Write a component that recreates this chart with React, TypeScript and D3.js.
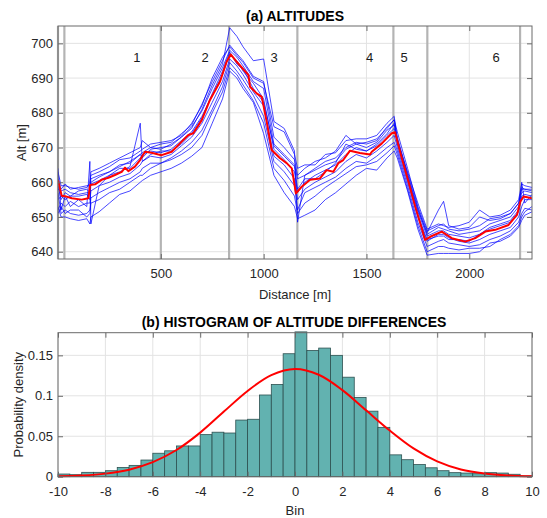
import React, { useEffect, useRef } from 'react';
import * as d3 from 'd3';

const FONT = '"Liberation Sans", Arial, Helvetica, sans-serif';

// ---------- (a) altitudes ----------
const altXTicks = [500, 1000, 1500, 2000];
const altYTicks = [640, 650, 660, 670, 680, 690, 700];
const segBounds = [0, 31, 500, 832, 1164, 1631, 1796, 2247];
const segNames = ['1', '2', '3', '4', '5', '6'];
const segLabelAt = [383, 715, 1051, 1515, 1683, 2131];

// distances (m) where the individual runs were read
const runDist = [0, 15, 35, 60, 100, 140, 155, 160, 200, 250, 300, 350, 400, 410, 450, 500, 550, 600, 650, 700,
  750, 800, 835, 870, 900, 950, 1000, 1050, 1100, 1150, 1165, 1200, 1250, 1300, 1350, 1400, 1450, 1500, 1550, 1600,
  1635, 1650, 1700, 1750, 1795, 1850, 1875, 1900, 1950, 2000, 2050, 2100, 2150, 2200, 2240, 2255, 2270, 2305];

const run1 = [663, 659, 659, 658.5, 658, 658.5, 660, 662, 663, 664.5, 666.5, 667, 669, 669.5, 671, 671.5, 672, 673.5, 677, 682,
  690, 696, 699, 696.5, 694.5, 690, 688.5, 676, 674.5, 668, 664, 665, 665, 668, 668.5, 672, 672.5, 672.5, 673.5, 677,
  679, 672, 663, 654, 646.5, 648, 647.5, 647, 647.5, 648.5, 652, 650, 650.5, 652, 655, 659.5, 659, 658.5];
const run2 = [658, 657.5, 658, 657, 656.5, 657, 657, 661, 662, 663, 665, 665.5, 668, 667, 669.5, 670, 670.5, 673, 676, 680.5,
  687, 693, 698, 696, 693.5, 689, 687, 671, 668, 665, 661, 662, 663.5, 665, 666, 669.5, 671, 670, 671.5, 675,
  676.5, 673, 662.5, 652.5, 645, 647, 646.5, 646, 645, 645.5, 646, 648, 649, 650, 653, 657, 657.5, 657];
const run3 = [655, 656, 655, 656, 656, 656.5, 655, 659.5, 660.5, 662, 664, 664, 667, 668, 669, 668.5, 669.5, 672, 674.5, 679,
  685, 691, 697, 695, 692, 688.5, 684, 669.5, 666.5, 663, 657, 660, 662, 663.5, 665, 668, 670, 669, 670.5, 673.5,
  675.5, 671.5, 661.5, 651.5, 644.5, 646, 646, 645, 644.5, 644, 645, 646.5, 647.5, 648.5, 651.5, 656, 656.5, 656];
const run4 = [652, 654, 653, 654.5, 653, 654, 654, 657.5, 659, 660, 661.5, 662.5, 665, 666, 667.5, 667, 668, 670.5, 673, 677,
  683, 689, 695.5, 693.5, 691, 686, 682, 667.5, 665, 661, 655, 658, 660, 661.5, 663, 666, 668, 667, 669, 671.5,
  673.5, 670, 660, 650, 643, 645, 645, 644, 643, 642.5, 643.5, 645, 646, 647, 650, 653, 655, 655];
const run5 = [657, 651, 652, 651, 650.5, 651, 652, 655.5, 657, 658.5, 660, 661, 663, 664, 665.5, 665.5, 667, 669, 671.5, 675,
  681, 687.5, 694.5, 692, 689.5, 685, 679, 666, 663, 659, 652, 657, 658.5, 660, 661.5, 664, 666, 665.5, 667.5, 670,
  671.5, 669, 659, 648.5, 641.5, 643, 643.5, 642.5, 642, 641.5, 642, 643.5, 644.5, 646, 648.5, 651, 652.5, 652];
const run6 = [653, 650, 650, 649.5, 649, 649.5, 648, 650, 651.5, 654, 656.5, 657.5, 660, 660.5, 662, 663, 664, 665.5, 667.5, 670,
  677, 684, 692, 690, 687, 683, 674, 662, 657, 653, 649.5, 650.5, 652, 655, 657, 659.5, 662, 664, 663.5, 667,
  669, 667, 657.5, 646.5, 639, 639.5, 639.5, 639.5, 639.5, 639.5, 640, 642.5, 643, 644.5, 647, 649, 650.5, 651.5];
const run7 = [659, 655, 657, 656, 657.5, 658, 657, 660, 661.5, 663, 664.5, 666, 668, 668.5, 670, 669.5, 671, 673, 675.5, 681,
  688, 694, 704.5, 702, 699, 695, 695.5, 677.5, 675.5, 669, 648.5, 662, 664, 666, 667, 670, 671.5, 671, 672, 676,
  678, 672.5, 662, 652, 645.5, 652, 654.5, 647.5, 646.5, 647, 650, 649, 649.5, 651, 654, 658, 658, 657.5];
const run8 = [664, 652, 656, 653, 655, 653, 666, 648, 659, 662, 663, 664.5, 677, 666, 668, 669, 669, 671, 674, 678.5,
  685.5, 692, 697.5, 694, 692.5, 687, 683, 670.5, 667.5, 664.5, 658, 661, 661, 663, 665.5, 671, 669.5, 669, 671, 674,
  677, 671, 661, 650.5, 643.5, 644.5, 644.5, 643.5, 643.5, 643, 645, 647, 648, 649, 652, 660, 654, 656.5];
const run9 = [651, 653, 651, 652, 652, 650, 651, 654, 655, 657, 658, 660, 662, 662, 664, 665.5, 666.5, 668, 670, 673.5,
  680, 686, 693, 691, 688, 683.5, 677, 664, 660.5, 656, 651, 654, 656, 658.5, 660.5, 662.5, 664.5, 665, 666, 668.5,
  670.5, 668, 658, 647.5, 640, 641.5, 641.5, 641, 640.5, 641, 641, 641.5, 643.5, 645, 647.5, 650, 651.5, 653];
const run10 = [661, 658, 659.5, 658, 658.5, 659, 659, 663, 664, 665.5, 667, 668.5, 670, 672, 670, 671, 671.5, 674, 676.5, 682.5,
  689, 695, 699.5, 697, 695, 690.5, 689, 673, 670, 666.5, 662, 664, 666, 667, 669, 673.5, 671, 671.5, 672.5, 675.5,
  678, 674.5, 664, 653, 646, 647.5, 648, 646.5, 646, 646.5, 647.5, 649.5, 650, 651, 654, 658.5, 658, 658];
const runs = [run1, run2, run3, run4, run5, run6, run7, run8, run9, run10];

// mean profile (red)
const meanDist = [0, 18, 34, 67, 115, 148, 156, 180, 212, 245, 277, 310, 326, 342, 374, 399, 423, 455, 488, 504,
  553, 593, 634, 658, 699, 739, 788, 820, 840, 869, 926, 934, 966, 991, 1015, 1039, 1080, 1112, 1137, 1157,
  1185, 1226, 1274, 1306, 1339, 1363, 1387, 1420, 1468, 1517, 1526, 1575, 1623, 1639, 1672, 1704, 1737, 1769, 1785, 1810,
  1866, 1915, 1980, 2029, 2078, 2126, 2191, 2232, 2248, 2264, 2305];
const meanAlt = [660.6, 656.1, 656, 655.4, 655, 655.4, 659.2, 659.4, 660.7, 661.3, 662.1, 663, 664.2, 663.2, 664.5, 666.4, 668.8, 668.5, 668, 667.8,
  668.8, 671.2, 673.6, 674.1, 677.9, 683.7, 689, 694.7, 696.8, 694.7, 690.9, 687.5, 685.6, 684.6, 677.4, 669.3, 666.9, 665.5, 664, 656.8,
  658.7, 660.7, 661.1, 663.5, 663, 665.5, 666.4, 669.1, 668.4, 668, 668.8, 671.2, 674.1, 674.4, 666.9, 660.2, 653, 646.7, 643.4, 644.3,
  645.8, 643.9, 642.9, 643.9, 645.8, 646.3, 647.7, 650.6, 654.4, 655.9, 655.4];

// ---------- (b) histogram ----------
const histXTicks = [-10, -8, -6, -4, -2, 0, 2, 4, 6, 8, 10];
const histYTicks = [0, 0.05, 0.1, 0.15];
const binLeft = d3.range(-10, 10, 0.5);
const binDensity = [0.0033, 0.0025, 0.0054, 0.0054, 0.0074, 0.0115, 0.014, 0.0206, 0.029, 0.032,
  0.038, 0.038, 0.052, 0.055, 0.054, 0.07, 0.071, 0.101, 0.114, 0.152,
  0.179, 0.156, 0.159, 0.15, 0.123, 0.098, 0.081, 0.061, 0.027, 0.021,
  0.015, 0.011, 0.0074, 0.005, 0.0045, 0.0037, 0.005, 0.0045, 0.003, 0.001];
const fitX = [-10, -9, -8, -7, -6, -5, -4, -3, -2, -1, 0, 1, 2, 3, 4, 5, 6, 7, 8, 9, 10];
const fitY = [0.0005, 0.0015, 0.0038, 0.0087, 0.018, 0.033, 0.0545, 0.0805, 0.106, 0.1255, 0.133,
  0.126, 0.107, 0.082, 0.057, 0.035, 0.019, 0.009, 0.004, 0.0016, 0.0005];

const GRID = '#e3e3e3';
const BOX = '#6a6a6a';
const TXT = '#262626';

function frame(svg: any, x: any, y: any, xt: number[], yt: number[], fmtX: any, fmtY: any) {
  const [x0, x1] = x.range();
  const [y0, y1] = y.range();
  const ax = svg.append('g');
  ax.append('g').attr('transform', `translate(0,${y0})`)
    .call(d3.axisBottom(x).tickValues(xt).tickFormat(fmtX).tickSizeInner(-5).tickSizeOuter(0).tickPadding(10));
  ax.append('g').attr('transform', `translate(0,${y1})`)
    .call(d3.axisTop(x).tickValues(xt).tickFormat(() => '').tickSizeInner(-5).tickSizeOuter(0));
  ax.append('g').attr('transform', `translate(${x0},0)`)
    .call(d3.axisLeft(y).tickValues(yt).tickFormat(fmtY).tickSizeInner(-5).tickSizeOuter(0).tickPadding(5));
  ax.append('g').attr('transform', `translate(${x1},0)`)
    .call(d3.axisRight(y).tickValues(yt).tickFormat(() => '').tickSizeInner(-5).tickSizeOuter(0));
  ax.selectAll('.domain').remove();
  ax.selectAll('.tick line').attr('stroke', BOX);
  ax.selectAll('text').attr('font-family', FONT).attr('font-size', 13).attr('fill', TXT);
  svg.append('rect').attr('x', x0).attr('y', y1).attr('width', x1 - x0).attr('height', y0 - y1)
    .attr('fill', 'none').attr('stroke', BOX).attr('stroke-width', 1);
}

function grid(svg: any, x: any, y: any, xt: number[], yt: number[]) {
  const [x0, x1] = x.range();
  const [y0, y1] = y.range();
  const g = svg.append('g').attr('stroke', GRID).attr('stroke-width', 1);
  g.selectAll('.gx').data(xt).join('line').attr('class', 'gx')
    .attr('x1', (d: number) => x(d)).attr('x2', (d: number) => x(d)).attr('y1', y1).attr('y2', y0);
  g.selectAll('.gy').data(yt).join('line').attr('class', 'gy')
    .attr('y1', (d: number) => y(d)).attr('y2', (d: number) => y(d)).attr('x1', x0).attr('x2', x1);
}

function drawAltitudes(svg: any) {
  const x = d3.scaleLinear().domain([0, 2305]).range([58, 532]);
  const y = d3.scaleLinear().domain([637.9, 705]).range([259, 26]);

  svg.append('clipPath').attr('id', 'clipA').append('rect')
    .attr('x', 58).attr('y', 26).attr('width', 474).attr('height', 233);

  grid(svg, x, y, altXTicks, altYTicks);

  svg.append('g').selectAll('line').data(segBounds).join('line')
    .attr('x1', (d: number) => x(d)).attr('x2', (d: number) => x(d))
    .attr('y1', 26).attr('y2', 259)
    .attr('stroke', '#b4b4b4').attr('stroke-width', 2.2);

  const runLine = d3.line<number>().x((d, i) => x(runDist[i])).y(d => y(d));
  svg.append('g').attr('clip-path', 'url(#clipA)')
    .selectAll('path').data(runs).join('path')
    .attr('d', (d: number[]) => runLine(d))
    .attr('fill', 'none').attr('stroke', '#0000ff').attr('stroke-width', 0.85).attr('stroke-opacity', 0.85);

  const meanLine = d3.line<number>().x((d, i) => x(meanDist[i])).y(d => y(d));
  svg.append('path').attr('clip-path', 'url(#clipA)').attr('d', meanLine(meanAlt))
    .attr('fill', 'none').attr('stroke', '#ff0000').attr('stroke-width', 2).attr('stroke-linejoin', 'round');

  svg.append('g').selectAll('text').data(segNames).join('text')
    .attr('x', (d: string, i: number) => x(segLabelAt[i])).attr('y', y(694.5))
    .attr('text-anchor', 'middle').attr('font-family', FONT).attr('font-size', 13).attr('fill', '#1a1a1a')
    .text((d: string) => d);

  frame(svg, x, y, altXTicks, altYTicks, (d: number) => String(d), (d: number) => String(d));

  svg.append('text').attr('x', 295).attr('y', 21).attr('text-anchor', 'middle')
    .attr('font-family', FONT).attr('font-size', 14).attr('font-weight', 'bold').attr('fill', '#000')
    .text('(a) ALTITUDES');
  svg.append('text').attr('x', 295).attr('y', 299).attr('text-anchor', 'middle')
    .attr('font-family', FONT).attr('font-size', 13).attr('fill', TXT).text('Distance [m]');
  svg.append('text').attr('transform', `translate(26,${(26 + 259) / 2}) rotate(-90)`).attr('text-anchor', 'middle')
    .attr('font-family', FONT).attr('font-size', 13).attr('fill', TXT).text('Alt [m]');
}

function drawHistogram(svg: any) {
  const x = d3.scaleLinear().domain([-10, 10]).range([58, 532]);
  const y = d3.scaleLinear().domain([0, 0.178]).range([476.7, 332.7]);

  grid(svg, x, y, histXTicks, histYTicks);

  svg.append('g').selectAll('rect').data(binDensity).join('rect')
    .attr('x', (d: number, i: number) => x(binLeft[i]))
    .attr('width', (d: number, i: number) => x(binLeft[i] + 0.5) - x(binLeft[i]))
    .attr('y', (d: number) => y(d)).attr('height', (d: number) => y(0) - y(d))
    .attr('fill', '#62b2b0').attr('stroke', '#2d5050').attr('stroke-width', 0.8);

  const fit = d3.line<number>().x((d, i) => x(fitX[i])).y(d => y(d)).curve(d3.curveCatmullRom);
  svg.append('path').attr('d', fit(fitY)).attr('fill', 'none').attr('stroke', '#ff0000').attr('stroke-width', 2);

  frame(svg, x, y, histXTicks, histYTicks, (d: number) => String(d), (d: number) => String(d));

  svg.append('text').attr('x', 294).attr('y', 327).attr('text-anchor', 'middle')
    .attr('font-family', FONT).attr('font-size', 14).attr('font-weight', 'bold').attr('fill', '#000')
    .text('(b) HISTOGRAM OF ALTITUDE DIFFERENCES');
  svg.append('text').attr('x', 295).attr('y', 515).attr('text-anchor', 'middle')
    .attr('font-family', FONT).attr('font-size', 13).attr('fill', TXT).text('Bin');
  svg.append('text').attr('transform', `translate(23,${(332.7 + 476.7) / 2}) rotate(-90)`).attr('text-anchor', 'middle')
    .attr('font-family', FONT).attr('font-size', 13).attr('fill', TXT).text('Probability density');
}

export default function App() {
  const ref = useRef<SVGSVGElement>(null);

  useEffect(() => {
    const svg = d3.select(ref.current);
    svg.selectAll('*').remove();
    drawAltitudes(svg);
    drawHistogram(svg);
  }, []);

  return (
    <svg ref={ref} width={547} height={518}
      style={{ position: 'absolute', left: 0, top: 0, background: '#fff' }} />
  );
}
